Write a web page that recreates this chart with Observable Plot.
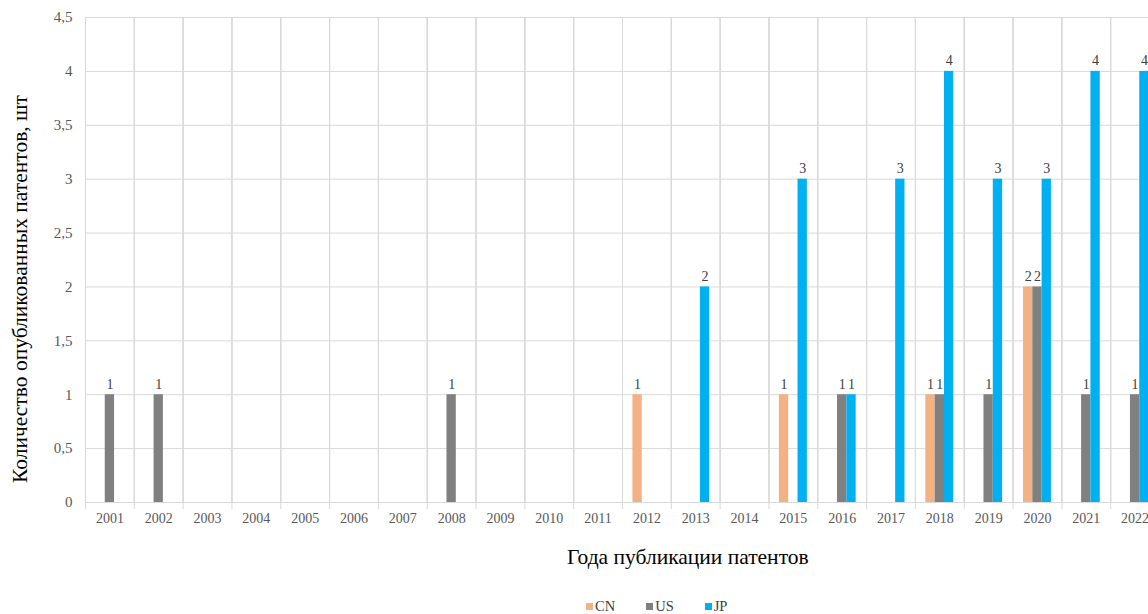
<!DOCTYPE html>
<html>
<head>
<meta charset="utf-8">
<script src="https://cdn.jsdelivr.net/npm/d3@7"></script>
<script src="https://cdn.jsdelivr.net/npm/@observablehq/plot@0.6"></script>
<style>
  body { margin: 0; background: #fff; overflow: hidden; font-family: "Liberation Serif", "Times New Roman", serif; }
  #wrap { position: relative; width: 1148px; height: 614px; overflow: hidden; }
  #chart { position: absolute; left: 0; top: 0; width: 1170px; }
  #chart svg { max-width: none !important; font-family: "Liberation Serif", "Times New Roman", serif !important; font-size: 15px; }
  #chart svg text { font-family: "Liberation Serif", "Times New Roman", serif !important; }
  #chart g[aria-label="fx-axis tick label"] { font-size: 14px; }
  #ytitle { position: absolute; left: 19.5px; top: 289px; transform: translate(-50%, -50%) rotate(-90deg); white-space: nowrap; font-size: 21.5px; color: #000; line-height: 1.15; }
  #xtitle { position: absolute; top: 545px; left: 567px; width: 200px; text-align: center; white-space: nowrap; font-size: 21.5px; color: #000; line-height: 1.15; }
  #legend { position: absolute; top: 598px; left: 586px; display: flex; font-size: 14.5px; color: #404040; line-height: 1.15; }
  #legend .item { display: flex; align-items: center; margin-right: 31px; }
  #legend .sw { width: 7px; height: 7px; margin-right: 2px; }
</style>
</head>
<body>
<div id="wrap">
  <div id="chart"></div>
  <div id="ytitle">Количество опубликованных патентов, шт</div>
  <div id="xtitle">Года публикации патентов</div>
  <div id="legend"></div>
</div>
<script>
// Publication years (categories)
const years = ["2001","2002","2003","2004","2005","2006","2007","2008","2009","2010","2011",
               "2012","2013","2014","2015","2016","2017","2018","2019","2020","2021","2022"];
// Patent offices (series)
const series = ["CN", "US", "JP"];
const seriesColors = ["#F4B183", "#808080", "#00B0F0"];
// Number of published patents per year
const cnValues = [0,0,0,0,0,0,0,0,0,0,0,1,0,0,1,0,0,1,0,2,0,0];
const usValues = [1,1,0,0,0,0,0,1,0,0,0,0,0,0,0,1,0,1,1,2,1,1];
const jpValues = [0,0,0,0,0,0,0,0,0,0,0,0,2,0,3,1,3,4,3,3,4,4];
// Y axis ticks
const yTicks = [0, 0.5, 1, 1.5, 2, 2.5, 3, 3.5, 4, 4.5];

const valuesBySeries = { CN: cnValues, US: usValues, JP: jpValues };
const rows = years.flatMap((year, i) =>
  series.map(s => ({ year, series: s, value: valuesBySeries[s][i] }))
);
const labelled = rows.filter(d => d.value > 0);

const comma = d => String(d).replace(".", ",");

const chart = Plot.plot({
  width: 1170,
  height: 540,
  marginLeft: 85,
  marginRight: 11,
  marginTop: 17,
  marginBottom: 38,
  style: "font-family: 'Liberation Serif', 'Times New Roman', serif; font-size: 15px; color: #595959; background: transparent; overflow: visible; max-width: none;",
  fx: { domain: years, paddingInner: 0, paddingOuter: 0, round: false, label: null, tickSize: 0, tickPadding: 11 },
  x: { domain: series, paddingInner: 0, paddingOuter: 1.12, round: false, axis: null },
  y: { domain: [0, 4.5], ticks: yTicks, tickFormat: comma, label: null, axis: null },
  color: { domain: series, range: seriesColors },
  marks: [
    Plot.gridY(yTicks, { stroke: "#d9d9d9", strokeOpacity: 1 }),
    Plot.frame({ stroke: "#d9d9d9" }),
    Plot.frame({ anchor: "left", stroke: "#d9d9d9", insetBottom: -6 }),
    Plot.axisY({ ticks: yTicks, tickFormat: comma, tickSize: 0, tickPadding: 13, label: null }),
    Plot.barY(rows, { fx: "year", x: "series", y: "value", fill: "series" }),
    Plot.text(labelled, {
      fx: "year", x: "series", y: "value", text: d => String(d.value),
      lineAnchor: "bottom", dy: -6, fill: "#404040", fontSize: 14
    })
  ]
});
document.getElementById("chart").appendChild(chart);

// Legend below the chart
const legend = document.getElementById("legend");
series.forEach((s, i) => {
  const item = document.createElement("div");
  item.className = "item";
  const sw = document.createElement("span");
  sw.className = "sw";
  sw.style.background = seriesColors[i];
  const label = document.createElement("span");
  label.textContent = s;
  item.appendChild(sw);
  item.appendChild(label);
  legend.appendChild(item);
});
</script>
</body>
</html>
